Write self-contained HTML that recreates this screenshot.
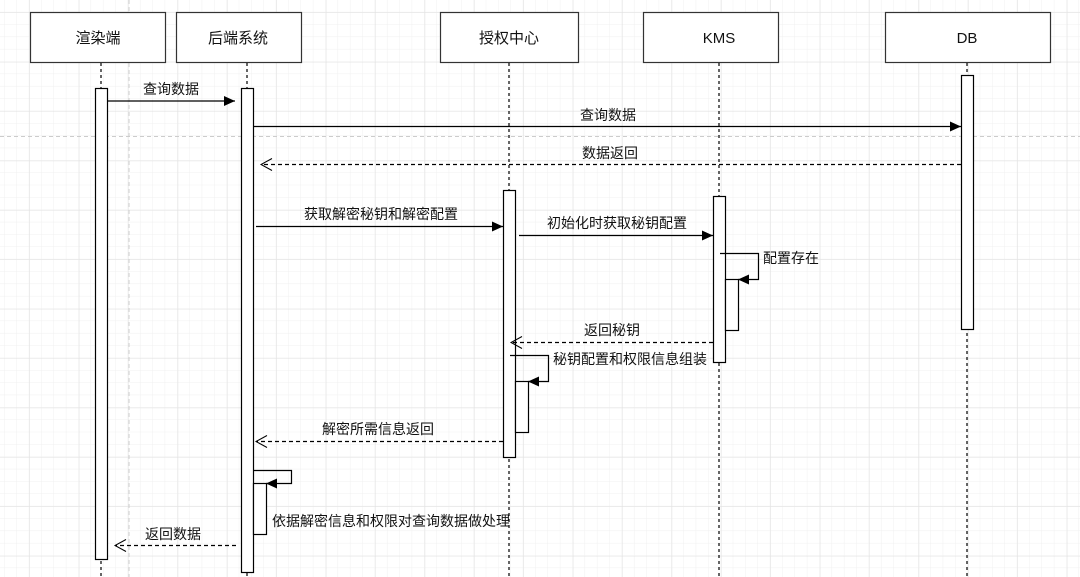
<!DOCTYPE html>
<html><head><meta charset="utf-8"><style>
html,body{margin:0;padding:0;background:#fff;}
svg{display:block;}
text{font-family:"Liberation Sans","Noto Sans CJK SC",sans-serif;font-size:14px;fill:#111;}
</style></head><body>
<svg width="1080" height="577" viewBox="0 0 1080 577" xmlns="http://www.w3.org/2000/svg">
<defs>
<pattern id="minor" width="12.35" height="12.35" patternUnits="userSpaceOnUse" x="4.6" y="0">
<path d="M12.35 0V12.35M0 12.35H12.35" fill="none" stroke="#f0f0f0" stroke-width="1"/>
</pattern>
<pattern id="major" width="49.4" height="49.4" patternUnits="userSpaceOnUse" x="29.5" y="12.5">
<path d="M0 0V49.4M0 0H49.4" fill="none" stroke="#e2e2e2" stroke-width="1"/>
</pattern>
<marker id="fa" markerWidth="12" markerHeight="10" refX="11" refY="5" orient="auto" markerUnits="userSpaceOnUse">
<path d="M0,0 L11,5 L0,10 Z" fill="#000"/>
</marker>
<marker id="oa" markerWidth="14" markerHeight="14" refX="12" refY="7" orient="auto" markerUnits="userSpaceOnUse">
<path d="M1,1 L12,7 L1,13" fill="none" stroke="#000" stroke-width="1"/>
</marker>
</defs>
<rect width="1080" height="577" fill="url(#minor)"/>
<rect width="1080" height="577" fill="url(#major)"/>
<line x1="129" y1="0" x2="129" y2="577" stroke="#ccc" stroke-dasharray="4,3"/>
<line x1="0" y1="136.5" x2="1080" y2="136.5" stroke="#ccc" stroke-dasharray="4,3"/>

<g stroke="#333" stroke-width="1.2" fill="#fff">
<rect x="30.5" y="12.5" width="135" height="50"/>
<rect x="176.5" y="12.5" width="125" height="50"/>
<rect x="440.5" y="12.5" width="138" height="50"/>
<rect x="643.5" y="12.5" width="135" height="50"/>
<rect x="885.5" y="12.5" width="165" height="50"/>
</g>
<g text-anchor="middle">
<text x="98" y="43" style="font-size:15px">渲染端</text>
<text x="238" y="43" style="font-size:15px">后端系统</text>
<text x="509" y="43" style="font-size:15px">授权中心</text>
<text x="719" y="43" style="font-size:15px">KMS</text>
<text x="967" y="43" style="font-size:15px">DB</text>
</g>

<g stroke="#000" stroke-width="1.2" stroke-dasharray="3,3">
<line x1="101" y1="63" x2="101" y2="577"/>
<line x1="247" y1="63" x2="247" y2="577"/>
<line x1="509" y1="63" x2="509" y2="577"/>
<line x1="719" y1="63" x2="719" y2="577"/>
<line x1="967" y1="63" x2="967" y2="577"/>
</g>

<g stroke="#000" stroke-width="1.2" fill="#fff">
<rect x="95.5" y="88.5" width="12" height="471"/>
<rect x="241.5" y="88.5" width="12" height="484"/>
<rect x="503.5" y="190.5" width="12" height="267"/>
<rect x="713.5" y="196.5" width="12" height="166"/>
<rect x="961.5" y="75.5" width="12" height="254"/>
<rect x="725.5" y="279.5" width="13" height="51"/>
<rect x="515.5" y="381.5" width="13" height="51"/>
<rect x="253.5" y="483.5" width="13" height="51"/>
</g>

<g stroke="#000" stroke-width="1.2" fill="none">
<line x1="107" y1="101" x2="235" y2="101" marker-end="url(#fa)"/>
<line x1="253" y1="126.5" x2="961" y2="126.5" marker-end="url(#fa)"/>
<line x1="961" y1="164.5" x2="261" y2="164.5" stroke-dasharray="4,3" marker-end="url(#oa)"/>
<line x1="256" y1="226.5" x2="503" y2="226.5" marker-end="url(#fa)"/>
<line x1="519" y1="235.5" x2="713" y2="235.5" marker-end="url(#fa)"/>
<polyline points="720,253.5 758.5,253.5 758.5,279.5 738,279.5" marker-end="url(#fa)"/>
<line x1="713" y1="342.5" x2="511" y2="342.5" stroke-dasharray="4,3" marker-end="url(#oa)"/>
<polyline points="510,355.5 548.5,355.5 548.5,381.5 528,381.5" marker-end="url(#fa)"/>
<line x1="503" y1="441.5" x2="256" y2="441.5" stroke-dasharray="4,3" marker-end="url(#oa)"/>
<polyline points="253,470.5 291.5,470.5 291.5,483.5 266,483.5" marker-end="url(#fa)"/>
<line x1="236" y1="545.5" x2="115" y2="545.5" stroke-dasharray="4,3" marker-end="url(#oa)"/>
</g>

<g text-anchor="middle">
<text x="171" y="94">查询数据</text>
<text x="608" y="120">查询数据</text>
<text x="610" y="158">数据返回</text>
<text x="381" y="219">获取解密秘钥和解密配置</text>
<text x="617" y="228">初始化时获取秘钥配置</text>
<text x="612" y="335">返回秘钥</text>
<text x="378" y="434">解密所需信息返回</text>
<text x="173" y="539">返回数据</text>
</g>
<text x="763" y="263">配置存在</text>
<text x="553" y="364">秘钥配置和权限信息组装</text>
<text x="272" y="526">依据解密信息和权限对查询数据做处理</text>
</svg>
</body></html>
